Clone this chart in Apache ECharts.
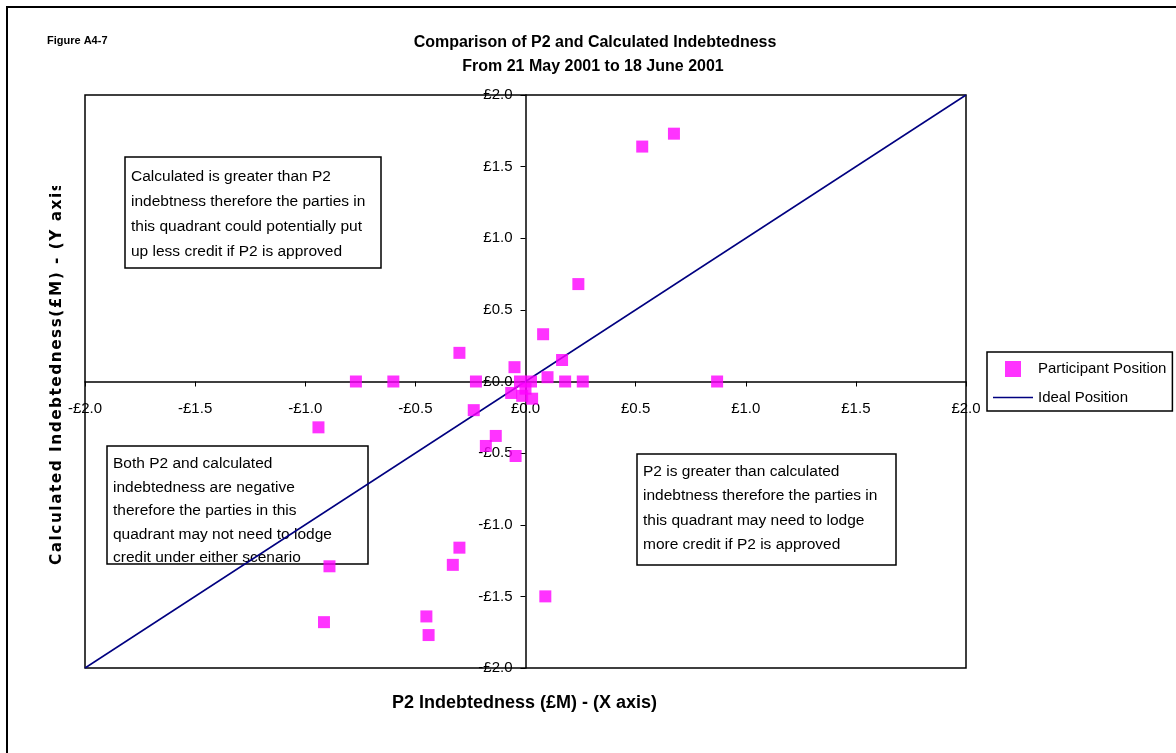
<!DOCTYPE html>
<html>
<head>
<meta charset="utf-8">
<script src="https://cdn.jsdelivr.net/npm/echarts@6/dist/echarts.min.js"></script>
<style>
  html, body { margin: 0; padding: 0; background: #fff; }
  #chart { width: 1176px; height: 753px; }
</style>
</head>
<body>
<div id="chart"></div>
<script>
// Participant positions: P2 indebtedness (x) vs calculated indebtedness (y), £M
const participantX = [0.674, 0.53, 0.24, 0.08, -0.30, 0.166, -0.05, -0.77, -0.60, -0.225,
  0.10, 0.18, 0.26, 0.87, -0.235, -0.94, -0.135, -0.18, -0.045, -0.30,
  -0.33, -0.89, 0.09, -0.45, -0.44, -0.915,
  -0.025, 0.025, 0.0, -0.065, 0.03, -0.015];
const participantY = [1.73, 1.64, 0.68, 0.33, 0.20, 0.15, 0.10, 0.0, 0.0, 0.0,
  0.03, 0.0, 0.0, 0.0, -0.20, -0.32, -0.38, -0.45, -0.52, -1.16,
  -1.28, -1.29, -1.50, -1.64, -1.77, -1.68,
  0.0, 0.0, -0.05, -0.08, -0.12, -0.10];

// Ideal position: calculated equals P2
const idealX = [-2, 2];
const idealY = [-2, 2];

const axisMin = -2.0, axisMax = 2.0, axisStep = 0.5;

const titleLines = ['Comparison of P2 and Calculated Indebtedness', 'From 21 May 2001 to 18 June 2001'];
const xTitle = 'P2 Indebtedness (£M) - (X axis)';
const yTitle = 'Calculated Indebtedness(£M) - (Y axis)';
const figureLabel = 'Figure A4-7';
const seriesNames = ['Participant Position', 'Ideal Position'];

const noteTopLeft = ['Calculated is greater than P2', 'indebtness therefore the parties in',
  'this quadrant could potentially put', 'up less credit if P2 is approved'];
const noteBottomLeft = ['Both P2 and calculated', 'indebtedness are negative',
  'therefore the parties in this', 'quadrant may not need to lodge', 'credit under either scenario'];
const noteBottomRight = ['P2 is greater than calculated', 'indebtness therefore the parties in',
  'this quadrant may need to lodge', 'more credit if P2 is approved'];

const FONT = '"Liberation Sans", Arial, sans-serif';

// plot frame in pixels
const PLOT = { left: 85, top: 95, width: 881, height: 573 };

function money(v) {
  const s = '£' + Math.abs(v).toFixed(1);
  return v < 0 ? '-' + s : s;
}

function noteBox(x, y, w, h, lines, lineH, textTop) {
  return {
    type: 'group',
    children: [
      { type: 'rect', shape: { x: x, y: y, width: w, height: h },
        style: { fill: '#fff', stroke: '#000', lineWidth: 1.5 } },
      { type: 'text', x: x + 6, y: textTop,
        style: { text: lines.join('\n'), font: '15.5px ' + FONT, fill: '#000',
                 lineHeight: lineH, textVerticalAlign: 'top' } }
    ]
  };
}

// spaced-out lettering for the vertical axis title
const spacedYTitle = Array.from(yTitle).join('\u200A');

const chart = echarts.init(document.getElementById('chart'), null, { renderer: 'canvas' });

const pairs = participantX.map((x, i) => [x, participantY[i]]);
const idealPairs = idealX.map((x, i) => [x, idealY[i]]);

chart.setOption({
  backgroundColor: '#fff',
  animation: false,
  grid: { left: PLOT.left, width: PLOT.width, top: PLOT.top, height: PLOT.height, show: true,
          borderColor: '#000', borderWidth: 1.5, backgroundColor: 'transparent' },
  // both axes cross at zero, in the middle of the frame
  xAxis: {
    type: 'value', min: axisMin, max: axisMax, interval: axisStep,
    position: 'bottom', offset: -PLOT.height / 2,
    axisLine: { onZero: false, lineStyle: { color: '#000', width: 1.5 } },
    axisTick: { show: true, length: 5, lineStyle: { color: '#000' } },
    axisLabel: { margin: 20, formatter: money, fontFamily: FONT, fontSize: 15, color: '#000' },
    splitLine: { show: false }
  },
  yAxis: {
    type: 'value', min: axisMin, max: axisMax, interval: axisStep,
    position: 'left', offset: -PLOT.width / 2,
    axisLine: { onZero: false, lineStyle: { color: '#000', width: 1.5 } },
    axisTick: { show: true, length: 5, lineStyle: { color: '#000' } },
    axisLabel: { margin: 13, formatter: money, fontFamily: FONT, fontSize: 15, color: '#000' },
    splitLine: { show: false }
  },
  legend: {
    orient: 'vertical', left: 987, top: 352,
    padding: [9, 6, 6, 6], itemGap: 13, itemWidth: 40, itemHeight: 16,
    borderColor: '#000', borderWidth: 1.5, borderRadius: 0,
    textStyle: { fontFamily: FONT, fontSize: 15, color: '#000' },
    data: [
      { name: seriesNames[0], icon: 'path://M0,0H10V10H0Z' },
      { name: seriesNames[1], icon: 'path://M0,0H40V1.6H0Z' }
    ]
  },
  graphic: [
    { type: 'rect', shape: { x: 7, y: 7, width: 1220, height: 800 },
      style: { fill: 'none', stroke: '#000', lineWidth: 2 }, silent: true },
    { type: 'text', x: 47, y: 41,
      style: { text: figureLabel, font: 'bold 11px ' + FONT, fill: '#000',
               textVerticalAlign: 'middle' } },
    { type: 'text', x: 595, y: 43,
      style: { text: titleLines[0], font: 'bold 16px ' + FONT, fill: '#000',
               textAlign: 'center', textVerticalAlign: 'middle' } },
    { type: 'text', x: 593, y: 67,
      style: { text: titleLines[1], font: 'bold 16px ' + FONT, fill: '#000',
               textAlign: 'center', textVerticalAlign: 'middle' } },
    { type: 'text', x: 524.5, y: 703,
      style: { text: xTitle, font: 'bold 18px ' + FONT, fill: '#000',
               textAlign: 'center', textVerticalAlign: 'middle' } },
    { type: 'text', x: 57, y: 565, rotation: Math.PI / 2,
      style: { text: spacedYTitle, font: 'bold 15.3px "DejaVu Sans", Verdana, sans-serif', fill: '#000',
               textAlign: 'left', textVerticalAlign: 'middle' } },
    // the axis title runs past the top of its frame and is cut there
    { type: 'rect', shape: { x: 30, y: 60, width: 50, height: 126 },
      style: { fill: '#fff' } },
    noteBox(125, 157, 256, 111, noteTopLeft, 25, 164),
    noteBox(107, 446, 261, 118, noteBottomLeft, 23.5, 452),
    noteBox(637, 454, 259, 111, noteBottomRight, 24.5, 459),
    // overflow of the last line below the bottom-left note is hidden
    { type: 'rect', shape: { x: 108, y: 565, width: 259, height: 9 },
      style: { fill: '#fff' } }
  ],
  series: [
    {
      name: seriesNames[1], type: 'line', data: idealPairs,
      symbol: 'none', z: 3,
      lineStyle: { color: '#000080', width: 1.5 },
      itemStyle: { color: '#000080' }
    },
    {
      name: seriesNames[0], type: 'scatter', data: pairs,
      symbol: 'rect', symbolSize: 12, z: 4,
      itemStyle: { color: '#FF00FF' }
    }
  ]
});
</script>
</body>
</html>
